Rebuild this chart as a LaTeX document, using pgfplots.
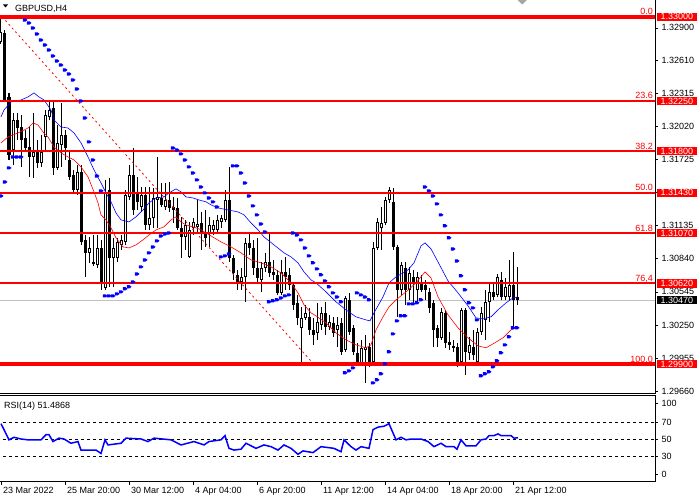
\documentclass[border=0pt]{standalone}
\usepackage{fontspec}
\setmainfont{Liberation Sans}
\usepackage{pgfplots}
\pgfplotsset{compat=1.18}
\usepackage{pgfplotstable}
\newcommand\ff{\fontsize{9}{10}\selectfont}
\pgfdeclareplotmark{sar}{%
 \pgfpathmoveto{\pgfqpoint{-2.2pt}{-1.6pt}}%
 \pgfpathlineto{\pgfqpoint{0.6pt}{-1.6pt}}%
 \pgfpathlineto{\pgfqpoint{2.5pt}{0pt}}%
 \pgfpathlineto{\pgfqpoint{0.6pt}{1.6pt}}%
 \pgfpathlineto{\pgfqpoint{-2.2pt}{1.6pt}}%
 \pgfpathclose\pgfusepathqfill}

\pgfplotstableread{
i o h l c
0 1.32774 1.33000 1.32757 1.32864
1 1.32855 1.32881 1.32239 1.32257
2 1.32284 1.32320 1.31722 1.31767
3 1.31811 1.32141 1.31678 1.32079
4 1.32079 1.32141 1.31900 1.32007
5 1.32016 1.32123 1.31660 1.31900
6 1.31918 1.31990 1.31811 1.31829
7 1.31838 1.32016 1.31571 1.31749
8 1.31749 1.32141 1.31562 1.31793
9 1.31793 1.31900 1.31651 1.31695
10 1.31695 1.31945 1.31660 1.31793
11 1.31927 1.32168 1.31793 1.32123
12 1.32106 1.32239 1.32079 1.32168
13 1.32186 1.32239 1.31588 1.31651
14 1.31651 1.32034 1.31633 1.31874
15 1.31856 1.32230 1.31660 1.31945
16 1.31945 1.31990 1.31722 1.31829
17 1.31722 1.31793 1.31544 1.31571
18 1.31588 1.31633 1.31437 1.31455
19 1.31455 1.31678 1.31410 1.31615
20 1.31615 1.31678 1.30964 1.30991
21 1.31009 1.31053 1.30679 1.30893
22 1.30893 1.31035 1.30804 1.30937
23 1.30812 1.31053 1.30777 1.30795
24 1.30786 1.31053 1.30759 1.30937
25 1.30937 1.31009 1.30563 1.30625
26 1.30581 1.31544 1.30563 1.31437
27 1.31455 1.31562 1.30590 1.30848
28 1.30848 1.31027 1.30590 1.30937
29 1.30848 1.31027 1.30812 1.30991
30 1.30964 1.31053 1.30919 1.31009
31 1.30991 1.31455 1.30964 1.31410
32 1.31392 1.31678 1.31365 1.31588
33 1.31588 1.31829 1.31232 1.31276
34 1.31428 1.31571 1.31276 1.31348
35 1.31303 1.31481 1.31258 1.31410
36 1.31410 1.31481 1.31098 1.31142
37 1.31142 1.31481 1.31098 1.31205
38 1.31205 1.31472 1.31116 1.31383
39 1.31365 1.31749 1.31116 1.31392
40 1.31383 1.31517 1.31303 1.31321
41 1.31303 1.31517 1.31276 1.31365
42 1.31365 1.31526 1.31258 1.31294
43 1.31303 1.31392 1.31160 1.31276
44 1.31294 1.31383 1.31098 1.31116
45 1.31116 1.31214 1.30848 1.31035
46 1.31035 1.31187 1.30919 1.31142
47 1.30857 1.31169 1.30848 1.31098
48 1.31116 1.31205 1.31053 1.31169
49 1.31125 1.31365 1.31071 1.31151
50 1.31160 1.31258 1.30919 1.31071
51 1.31071 1.31276 1.30946 1.31027
52 1.31071 1.31214 1.30946 1.31142
53 1.31098 1.31187 1.31053 1.31142
54 1.31098 1.31232 1.31080 1.31187
55 1.31169 1.31232 1.31116 1.31205
56 1.31187 1.31455 1.31169 1.31365
57 1.31365 1.31660 1.30812 1.30848
58 1.30848 1.30875 1.30652 1.30714
59 1.30697 1.30741 1.30563 1.30634
60 1.30634 1.30759 1.30563 1.30679
61 1.30679 1.31027 1.30456 1.30982
62 1.30982 1.31071 1.30875 1.30937
63 1.30937 1.31009 1.30697 1.30759
64 1.30759 1.31027 1.30625 1.30670
65 1.30652 1.30812 1.30545 1.30759
66 1.30759 1.30893 1.30723 1.30812
67 1.30812 1.31071 1.30679 1.30714
68 1.30723 1.30830 1.30652 1.30697
69 1.30697 1.30741 1.30518 1.30536
70 1.30536 1.30830 1.30518 1.30723
71 1.30723 1.30857 1.30563 1.30679
72 1.30697 1.30759 1.30563 1.30607
73 1.30607 1.30625 1.30384 1.30429
74 1.30447 1.30518 1.30251 1.30313
75 1.30224 1.30411 1.29900 1.30313
76 1.30313 1.30429 1.30295 1.30358
77 1.30322 1.30402 1.30161 1.30206
78 1.30206 1.30313 1.30072 1.30161
79 1.30179 1.30447 1.30117 1.30277
80 1.30251 1.30411 1.30206 1.30358
81 1.30358 1.30456 1.30161 1.30233
82 1.30233 1.30340 1.30206 1.30277
83 1.30268 1.30322 1.30144 1.30179
84 1.30206 1.30322 1.30054 1.30251
85 1.30268 1.30313 1.29983 1.30010
86 1.30028 1.30509 1.30010 1.30491
87 1.30474 1.30536 1.30161 1.30188
88 1.30224 1.30251 1.29983 1.30010
89 1.30001 1.30090 1.29894 1.29912
90 1.29912 1.30117 1.29885 1.30046
91 1.30028 1.30161 1.29733 1.30054
92 1.30054 1.30090 1.29876 1.29921
93 1.29921 1.30991 1.29894 1.30937
94 1.30937 1.31205 1.30919 1.31169
95 1.31116 1.31303 1.30919 1.31160
96 1.31160 1.31392 1.31142 1.31365
97 1.31365 1.31481 1.31339 1.31455
98 1.31348 1.31472 1.30919 1.30946
99 1.30946 1.30964 1.30322 1.30563
100 1.30563 1.30812 1.30518 1.30786
101 1.30759 1.30812 1.30429 1.30563
102 1.30563 1.30768 1.30474 1.30714
103 1.30679 1.30741 1.30447 1.30634
104 1.30563 1.30723 1.30456 1.30679
105 1.30625 1.30697 1.30545 1.30563
106 1.30607 1.30652 1.30474 1.30563
107 1.30545 1.30581 1.30358 1.30402
108 1.30447 1.30474 1.30054 1.30206
109 1.30224 1.30251 1.30054 1.30135
110 1.30135 1.30402 1.30117 1.30367
111 1.30358 1.30384 1.30046 1.30090
112 1.30099 1.30188 1.30028 1.30072
113 1.30063 1.30117 1.30010 1.30046
114 1.30054 1.30090 1.29876 1.29921
115 1.29921 1.30402 1.29894 1.30384
116 1.30384 1.30402 1.29805 1.30010
117 1.30001 1.30144 1.29939 1.30072
118 1.30054 1.30206 1.29939 1.29983
119 1.29921 1.30224 1.29894 1.30188
120 1.30188 1.30411 1.30161 1.30358
121 1.30295 1.30563 1.30117 1.30456
122 1.30456 1.30634 1.30277 1.30545
123 1.30545 1.30625 1.30474 1.30500
124 1.30518 1.30705 1.30500 1.30679
125 1.30652 1.30723 1.30474 1.30500
126 1.30500 1.30670 1.30474 1.30590
127 1.30500 1.30830 1.30474 1.30607
128 1.30607 1.30902 1.30233 1.30474
129 1.30500 1.30768 1.30429 1.30470
}\candles

\pgfplotstableread{
i s
0 1.31401
1 1.31526
2 1.31651
3 1.31749
4 1.31749
5 1.31749
6 1.32971
7 1.32944
8 1.32899
9 1.32846
10 1.32792
11 1.32748
12 1.32703
13 1.32650
14 1.32605
15 1.32569
16 1.32525
17 1.32489
18 1.32436
19 1.32355
20 1.32248
21 1.32097
22 1.31883
23 1.31722
24 1.31579
25 1.31446
26 1.30509
27 1.30509
28 1.30509
29 1.30527
30 1.30545
31 1.30572
32 1.30590
33 1.30634
34 1.30705
35 1.30768
36 1.30830
37 1.30893
38 1.30946
39 1.31000
40 1.31044
41 1.31062
42 1.31071
43 1.31829
44 1.31811
45 1.31776
46 1.31722
47 1.31660
48 1.31606
49 1.31544
50 1.31481
51 1.31428
52 1.31383
53 1.31348
54 1.31303
55 1.30857
56 1.30866
57 1.30884
58 1.31669
59 1.31669
60 1.31606
61 1.31517
62 1.31401
63 1.31312
64 1.31232
65 1.31151
66 1.31080
67 1.30456
68 1.30465
69 1.30474
70 1.30491
71 1.30509
72 1.30518
73 1.31071
74 1.31053
75 1.31009
76 1.30937
77 1.30866
78 1.30804
79 1.30750
80 1.30697
81 1.30643
82 1.30590
83 1.30536
84 1.30500
85 1.30456
86 1.29823
87 1.29840
88 1.29867
89 1.30536
90 1.30518
91 1.30500
92 1.30474
93 1.29733
94 1.29760
95 1.29814
96 1.29903
97 1.30010
98 1.30170
99 1.30286
100 1.30331
101 1.30331
102 1.30438
103 1.30438
104 1.30447
105 1.30474
106 1.31481
107 1.31446
108 1.31401
109 1.31330
110 1.31232
111 1.31134
112 1.31027
113 1.30928
114 1.30821
115 1.30688
116 1.30563
117 1.30447
118 1.30402
119 1.30295
120 1.29796
121 1.29814
122 1.29832
123 1.29876
124 1.29930
125 1.30001
126 1.30072
127 1.30144
128 1.30224
129 1.30224
}\sar

\begin{document}
\begin{tikzpicture}[x=1pt,y=1pt]
\useasboundingbox (0pt,0pt) rectangle (700pt,500pt);
% main panel: prices are entered as prices; the axis works in pips above 1.29
\begin{axis}[
  at={(0pt,106.7pt)}, anchor=south west,
  scale only axis, width=655pt, height=393.3pt,
  xmin=-0.25, xmax=163.5, ymin=64.0, ymax=414.9,
  y filter/.expression={(y-1.29)*10000},
  axis line style={draw=none},
  xtick=\empty,
  ytick={66,95.5,125,154.5,184,213.5,243,272.5,302,331.5,361,390},
  yticklabels={1.29660,1.29955,1.30250,1.30545,1.30840,1.31135,1.31430,1.31725,1.32020,1.32315,1.32610,1.32900},
  ytick pos=right, yticklabel pos=right,
  tick align=outside, major tick length=3pt,
  tick style={black, line width=0.6pt},
  yticklabel style={font=\ff, text=black},
  /pgf/number format/assume math mode=true,
]
% current price line
\addplot[color={rgb,255:red,192;green,192;blue,192}, line width=0.8pt] coordinates {(-1,1.30470) (170,1.30470)};
% wicks
\addplot[draw=none, mark=none, forget plot, error bars/.cd, y dir=plus, y explicit, error mark=none,
  error bar style={draw=black, line width=1pt}]
  table[x=i, y=l, y error expr={(\thisrow{h}-\thisrow{l})*10000}] {\candles};
% bodies
\addplot[draw=none, mark=none, forget plot, error bars/.cd, y dir=plus, y explicit, error mark=none,
  error bar style={draw=black, line width=3pt}]
  table[x=i, y expr={min(\thisrow{o},\thisrow{c})}, y error expr={max(abs(\thisrow{c}-\thisrow{o})*10000,0.9)}] {\candles};
% hollow bullish bodies
\addplot[draw=none, mark=none, forget plot, error bars/.cd, y dir=plus, y explicit, error mark=none,
  error bar style={draw=white, line width=1pt}]
  table[x=i, y expr={\thisrow{o}+0.000089}, y error expr={max((\thisrow{c}-\thisrow{o})*10000-1.78,0)}] {\candles};
% moving averages
\addplot[blue, line width=0.6pt, mark=none] coordinates {
(0,1.32106) (0.75,1.32168) (2.5,1.32239) (5,1.32257) (6.75,1.32284) (8.25,1.32320) (9.5,1.32284) (10.75,1.32257) (12.5,1.32168) (13.25,1.32079) (15,1.32016) (16.75,1.32007) (18.25,1.31963) (20,1.31874) (21.75,1.31749) (23.25,1.31633) (25,1.31517) (26.25,1.31428) (27.5,1.31348) (28.75,1.31249) (30,1.31187) (32,1.31169) (33.75,1.31214) (35.5,1.31276) (37,1.31339) (38.75,1.31383) (40.75,1.31392) (42,1.31428) (43.75,1.31464) (45,1.31437) (46.25,1.31392) (48,1.31383) (49.5,1.31365) (51.25,1.31348) (52.5,1.31321) (54.25,1.31294) (56.75,1.31276) (59.25,1.31258) (60.75,1.31232) (62.5,1.31160) (64.25,1.31098) (65.75,1.31035) (68.25,1.30964) (70.75,1.30893) (72.5,1.30857) (74.25,1.30804) (75.75,1.30723) (77.5,1.30652) (78.75,1.30625) (81.25,1.30545) (83.75,1.30456) (86.25,1.30384) (88.75,1.30322) (91.25,1.30295) (92.25,1.30286) (93.25,1.30358) (95.5,1.30500) (97,1.30625) (98.75,1.30679) (100.5,1.30714) (101.75,1.30741) (103.25,1.30804) (105,1.30955) (106,1.30982) (107.5,1.30928) (109.25,1.30812) (111.75,1.30643) (114.25,1.30536) (116.75,1.30420) (118.75,1.30313) (120.5,1.30304) (122.5,1.30322) (124.25,1.30384) (126.25,1.30447) (128,1.30491) (129.25,1.30500)};
\addplot[red, line width=0.6pt, mark=none] coordinates {
(0,1.31874) (1.75,1.31927) (4.25,1.31963) (6.75,1.32007) (8,1.32052) (9.25,1.32034) (10.5,1.31972) (11.75,1.31927) (13.25,1.31838) (15,1.31785) (16.75,1.31749) (18.25,1.31722) (20,1.31660) (21.75,1.31571) (23.25,1.31437) (24.25,1.31339) (25,1.31232) (26.25,1.31187) (27.5,1.31116) (28.75,1.31027) (30.5,1.30946) (32,1.30937) (33.75,1.30964) (35.5,1.31009) (37,1.31053) (38.75,1.31098) (40.75,1.31125) (42.5,1.31187) (43.75,1.31214) (45,1.31169) (46.25,1.31142) (48,1.31125) (49.5,1.31107) (51.25,1.31071) (52.5,1.31044) (55,1.30991) (57.5,1.30946) (60,1.30893) (62.5,1.30830) (65,1.30804) (67.5,1.30768) (70,1.30714) (72.5,1.30625) (74.25,1.30536) (75.75,1.30429) (77.5,1.30358) (78.75,1.30331) (81.25,1.30268) (83.75,1.30179) (86.25,1.30117) (88.75,1.30072) (91.25,1.30046) (92.5,1.30072) (93.75,1.30206) (95.5,1.30322) (97,1.30411) (98.75,1.30474) (101.25,1.30545) (103.75,1.30625) (105,1.30679) (106,1.30723) (107.5,1.30670) (109.25,1.30500) (111.75,1.30340) (114.25,1.30224) (116.75,1.30135) (119.25,1.30063) (121.25,1.30046) (123,1.30081) (125.5,1.30135) (127.5,1.30206) (129.25,1.30233)};
% parabolic SAR
\addplot[only marks, mark=sar, blue] table[x=i, y=s] {\sar};
% fibonacci levels
\addplot[red, line width=4pt] coordinates {(-1,1.33000) (170,1.33000)};
\addplot[red, line width=2pt] coordinates {(-1,1.32250) (170,1.32250)};
\addplot[red, line width=2pt] coordinates {(-1,1.31800) (170,1.31800)};
\addplot[red, line width=2pt] coordinates {(-1,1.31430) (170,1.31430)};
\addplot[red, line width=2pt] coordinates {(-1,1.31070) (170,1.31070)};
\addplot[red, line width=2pt] coordinates {(-1,1.30620) (170,1.30620)};
\addplot[red, line width=4pt] coordinates {(-1,1.29900) (170,1.29900)};
\addplot[red, line width=0.8pt, dash pattern=on 2pt off 3pt] coordinates {(0.25,1.33000) (78.2,1.29900)};
\coordinate (F0) at (rel axis cs:0,{(400-64)/350.9});
\coordinate (F1) at (rel axis cs:0,{(325-64)/350.9});
\coordinate (F2) at (rel axis cs:0,{(280-64)/350.9});
\coordinate (F3) at (rel axis cs:0,{(243-64)/350.9});
\coordinate (F4) at (rel axis cs:0,{(207-64)/350.9});
\coordinate (F5) at (rel axis cs:0,{(162-64)/350.9});
\coordinate (F6) at (rel axis cs:0,{(90-64)/350.9});
\coordinate (CP) at (rel axis cs:0,{(147-64)/350.9});
\end{axis}

\begin{axis}[
  at={(0pt,18.5pt)}, anchor=south west,
  scale only axis, width=655pt, height=85pt,
  xmin=-0.25, xmax=163.5, ymin=0, ymax=100,
  axis line style={draw=none},
  xtick={0,16,32,48,64,80,96,112,128},
  xticklabels={23 Mar 2022,25 Mar 20:00,30 Mar 12:00,4 Apr 04:00,6 Apr 20:00,11 Apr 12:00,14 Apr 04:00,18 Apr 20:00,21 Apr 12:00},
  xtick pos=bottom,
  xticklabel style={font=\ff, anchor=north west, xshift=-1.5pt, yshift=1pt},
  ytick={8.8,30,50,70,92.4},
  yticklabels={0,30,50,70,100},
  ytick pos=right, yticklabel pos=right,
  yticklabel style={font=\ff},
  tick align=outside, major tick length=3pt,
  tick style={black, line width=0.6pt},
  /pgf/number format/assume math mode=true,
]
\addplot[black, line width=0.6pt, dash pattern=on 3pt off 3pt] coordinates {(-1,70) (170,70)};
\addplot[black, line width=0.6pt, dash pattern=on 3pt off 3pt] coordinates {(-1,50) (170,50)};
\addplot[black, line width=0.6pt, dash pattern=on 3pt off 3pt] coordinates {(-1,30) (170,30)};
\addplot[blue, line width=1.5pt, mark=none] coordinates {
(0,68) (0.75,61) (2,49) (3.25,52) (5,50) (6.75,49) (10,49) (11.25,55) (12,55) (13,47) (14.5,51) (15.75,50) (17.5,45) (19.25,47) (20,37) (23.75,37) (25,33) (26,49) (26.75,43) (30,45) (31.25,51) (35,50) (36.75,47) (38.25,51) (42.5,49) (45,43) (48.25,47) (50.75,43) (52,47) (55,49) (56,54) (57,39) (58.25,37) (60,38) (61.25,45) (63.75,39) (65.75,43) (67.5,41) (69.25,37) (70.75,43) (72.5,39) (74.25,32) (75.5,36) (78,34) (80,41) (83.25,39) (85,35) (85.75,49) (87.5,41) (88.75,37) (90,41) (92,39) (93,61) (94.25,64) (95.75,65) (97,68) (98.75,49) (100,52) (101.25,49) (102.5,50) (105,50) (106.75,47) (108.25,41) (110,45) (111.25,41) (113.25,41) (114,38) (115,49) (116.25,42) (118.75,42) (120,49) (121.25,50) (122,54) (123.25,54) (124.25,56) (125,54) (127.5,54) (128.25,51) (129.25,51.5)};
\end{axis}

% panel frames
\draw[black, line width=1pt] (0pt,106.7pt) -- (655pt,106.7pt) -- (655pt,500pt);
\draw[black, line width=1pt] (0pt,104pt) -- (655pt,104pt) -- (655pt,18.5pt) -- (0pt,18.5pt);

% fibonacci level labels
\tikzset{fl/.style={anchor=base east, text=red, font=\ff, inner sep=0pt, yshift=2pt},
 pb/.style={anchor=west, fill=red, text=white, font=\ff, inner xsep=3.8pt, inner ysep=0.9pt, text height=6.5pt, text depth=0pt}}
\node[fl] at (653pt,0pt |- F0) {0.0};
\node[fl] at (653pt,0pt |- F1) {23.6};
\node[fl] at (653pt,0pt |- F2) {38.2};
\node[fl] at (653pt,0pt |- F3) {50.0};
\node[fl] at (653pt,0pt |- F4) {61.8};
\node[fl] at (653pt,0pt |- F5) {76,4};
\node[fl] at (653pt,0pt |- F6) {100.0};
\node[pb] at (656.5pt,0pt |- F0) {1.33000};
\node[pb] at (656.5pt,0pt |- F1) {1.32250};
\node[pb] at (656.5pt,0pt |- F2) {1.31800};
\node[pb] at (656.5pt,0pt |- F3) {1.31430};
\node[pb] at (656.5pt,0pt |- F4) {1.31070};
\node[pb] at (656.5pt,0pt |- F5) {1.30620};
\node[pb] at (656.5pt,0pt |- F6) {1.29900};
\node[pb, fill=black] at (656.5pt,0pt |- CP) {1.30470};

% header
\fill[black] (3pt,495.5pt) -- (8pt,495.5pt) -- (5.5pt,492.5pt) -- cycle;
\node[anchor=base west, font=\ff, inner sep=0pt] at (15pt,488.5pt) {GBPUSD,H4};
\fill[gray!70] (517.5pt,500pt) -- (527pt,500pt) -- (522.2pt,495.5pt) -- cycle;
\node[anchor=base west, font=\ff, inner sep=0pt] at (4pt,91pt) {RSI(14) 51.4868};
\end{tikzpicture}
\end{document}
